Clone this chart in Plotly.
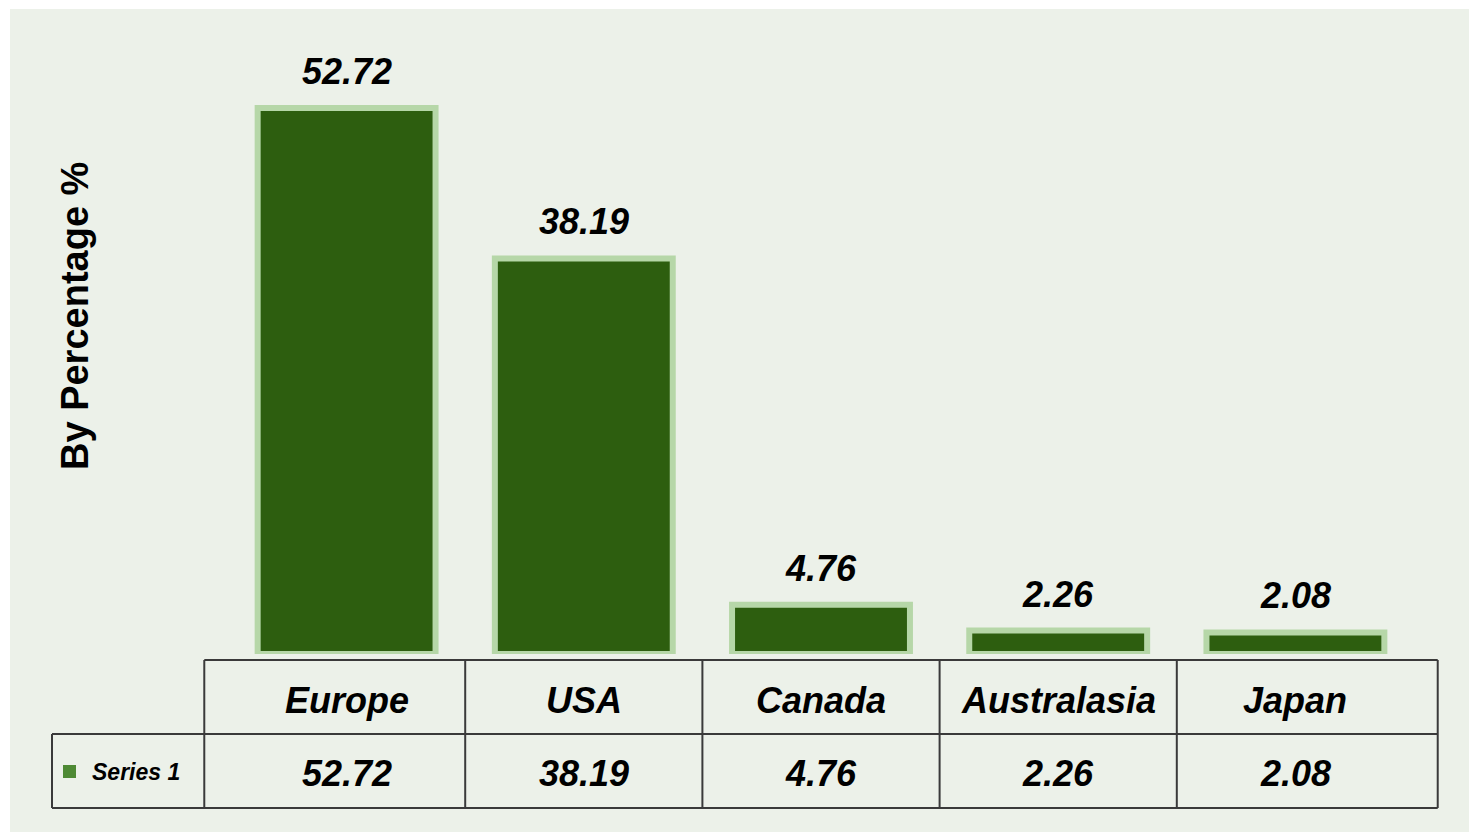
import plotly.graph_objects as go

categories = ["Europe", "USA", "Canada", "Australasia", "Japan"]
values = [52.72, 38.19, 4.76, 2.26, 2.08]
value_labels = ["52.72", "38.19", "4.76", "2.26", "2.08"]
series_name = "Series 1"
y_title = "By Percentage %"

W, H = 1477, 832
L, R, T, B = 228, 63, 40, 178
PW = W - L - R
PH = H - T - B


def px_x(px):
    return (px - L) / PW


def px_y(py):
    return (H - B - py) / PH


BAR = "#2D5E0F"
OUTLINE = "#B6D7A8"
PANEL = "#ECF1E9"
LINE = "#3A3A3A"
FONT = "Liberation Sans"

fig = go.Figure()
fig.add_trace(go.Bar(
    x=categories, y=values, name=series_name,
    marker=dict(color=BAR, line=dict(color=OUTLINE, width=6)),
    showlegend=False, hoverinfo="x+y",
))

shapes = []
# panel background
shapes.append(dict(type="rect", xref="paper", yref="paper", layer="below",
                   x0=px_x(10), x1=px_x(1469), y0=px_y(834), y1=px_y(9),
                   fillcolor=PANEL, line=dict(width=0)))

# data table grid (paper coords so nothing is clipped)
n = len(categories)


def cat_to_paper(xc):
    return (xc + 0.5) / n


y_top, y_mid, y_bot = px_y(660), px_y(734), px_y(808)
x_left_out = px_x(52)
x_first = cat_to_paper(-0.6)
x_last = cat_to_paper(n - 1 + 0.6)
ln = dict(color=LINE, width=2)
shapes.append(dict(type="line", xref="paper", yref="paper", x0=x_first, x1=x_last,
                   y0=y_top, y1=y_top, line=ln))
for yy in (y_mid, y_bot):
    shapes.append(dict(type="line", xref="paper", yref="paper", x0=x_left_out, x1=x_last,
                       y0=yy, y1=yy, line=ln))
shapes.append(dict(type="line", xref="paper", yref="paper", x0=x_left_out, x1=x_left_out,
                   y0=y_mid, y1=y_bot, line=ln))
bounds = [-0.6] + [i + 0.5 for i in range(n - 1)] + [n - 1 + 0.6]
for xb in bounds:
    xp = cat_to_paper(xb)
    shapes.append(dict(type="line", xref="paper", yref="paper", x0=xp, x1=xp,
                       y0=y_top, y1=y_bot, line=ln))
# legend key square
shapes.append(dict(type="rect", xref="paper", yref="paper",
                   x0=px_x(63), x1=px_x(76), y0=px_y(778), y1=px_y(765),
                   fillcolor="#4E8A34", line=dict(width=0)))

annotations = []
lab_font = dict(family=FONT, size=36, color="black", style="italic", weight="bold")
for c, v, t in zip(categories, values, value_labels):
    annotations.append(dict(x=c, y=v, xref="x", yref="y", text=t, showarrow=False,
                            yanchor="bottom", yshift=14, font=lab_font))
    annotations.append(dict(x=c, y=px_y(700), xref="x", yref="paper", text=c, showarrow=False,
                            yanchor="middle", font=lab_font))
    annotations.append(dict(x=c, y=px_y(773), xref="x", yref="paper", text=t, showarrow=False,
                            yanchor="middle", font=lab_font))
annotations.append(dict(x=px_x(90), y=px_y(772), xref="paper", yref="paper", text=series_name,
                        showarrow=False, xanchor="left", yanchor="middle",
                        font=dict(family=FONT, size=23, color="black", style="italic", weight="bold")))
annotations.append(dict(x=px_x(75), y=px_y(316), xref="paper", yref="paper", text=y_title,
                        showarrow=False, textangle=-90, xanchor="center", yanchor="middle",
                        font=dict(family=FONT, size=38, color="black", weight="bold")))

fig.update_layout(
    width=W, height=H,
    margin=dict(l=L, r=R, t=T, b=B, autoexpand=False),
    paper_bgcolor="white", plot_bgcolor="rgba(0,0,0,0)",
    bargap=0.25,
    xaxis=dict(showticklabels=False, showgrid=False, zeroline=False, showline=False,
               ticks="", range=[-0.5, n - 0.5]),
    yaxis=dict(visible=False, range=[0, 59.28], showgrid=False, zeroline=False),
    shapes=shapes, annotations=annotations,
    font=dict(family=FONT),
)

fig.write_html("out.html", config={"displayModeBar": False},
               post_script="document.body.style.margin='0px';document.body.style.overflow='hidden';")
